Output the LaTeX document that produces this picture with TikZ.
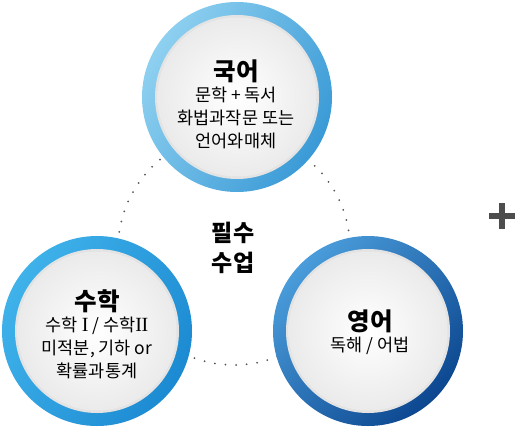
\documentclass[tikz,border=0pt]{standalone}
\usepackage{fontspec}
\setmainfont{Noto Sans CJK KR}
\newfontfamily\numeralfont[Scale=1.15]{Liberation Serif}
\usetikzlibrary{positioning}
\definecolor{korLight}{HTML}{8ED0F0}
\definecolor{korDark}{HTML}{3A9AD6}
\definecolor{mathLight}{HTML}{3FB2EA}
\definecolor{mathDark}{HTML}{1C8AD2}
\definecolor{engLight}{HTML}{4A9CDA}
\definecolor{engDark}{HTML}{0C4790}
\definecolor{dotGray}{HTML}{555555}
\definecolor{plusGray}{HTML}{4D4D4D}
\tikzset{
  subjtitle/.style={font=\fontsize{24.5}{27}\selectfont\bfseries, inner sep=0pt},
  subjbody/.style={font=\fontsize{17.5}{23}\selectfont, align=center, inner sep=0pt},
  innerdisc/.style={inner color=white, outer color=black!8},
}

\begin{document}
\begin{tikzpicture}[x=1pt, y=-1pt]
    \useasboundingbox (0,0) rectangle (529,431);

    % dotted ring behind the three circles
    \draw[dotGray, line width=2pt, line cap=round, dash pattern=on 0pt off 10.6pt] (234,249) circle (116);

    % top circle
    \shade[top color=korLight, bottom color=korDark, shading angle=60] (237,97) circle (95);
    \fill[black!11] (237,97) circle (82);
    \shade[innerdisc] (237,97) circle (79.5);
    % left circle
    \shade[top color=mathLight, bottom color=mathDark, shading angle=60] (97,331) circle (95);
    \fill[black!11] (97,331) circle (82);
    \shade[innerdisc] (97,331) circle (79.5);
    % right circle
    \shade[top color=engLight, bottom color=engDark, shading angle=45] (368,331) circle (95);
    \fill[black!11] (368,331) circle (82);
    \shade[innerdisc] (368,331) circle (79.5);

    \node[subjtitle] (kor) at (236,71) {국어};
    \node[subjbody, below=4pt of kor] (korbody) {문학 + 독서\\화법과작문 또는\\언어와매체};

    \node[subjtitle] (math) at (97,301) {수학};
    \node[subjbody, below=4pt of math] (mathbody) {수학 {\numeralfont I} / 수학{\numeralfont I\kern-0.02em I}\\미적분, 기하 or\\확률과통계};

    \node[subjtitle] (eng) at (370,321) {영어};
    \node[subjbody, below=4pt of eng] (engbody) {독해 / 어법};

    \node[subjtitle, align=center, font=\fontsize{23}{30}\selectfont\bfseries] (core) at (233,248) {필수\\수업};

    % plus sign
    \fill[plusGray] (489,213) rectangle (515,218.5);
    \fill[plusGray] (499,203) rectangle (505,229);
\end{tikzpicture}
\end{document}
